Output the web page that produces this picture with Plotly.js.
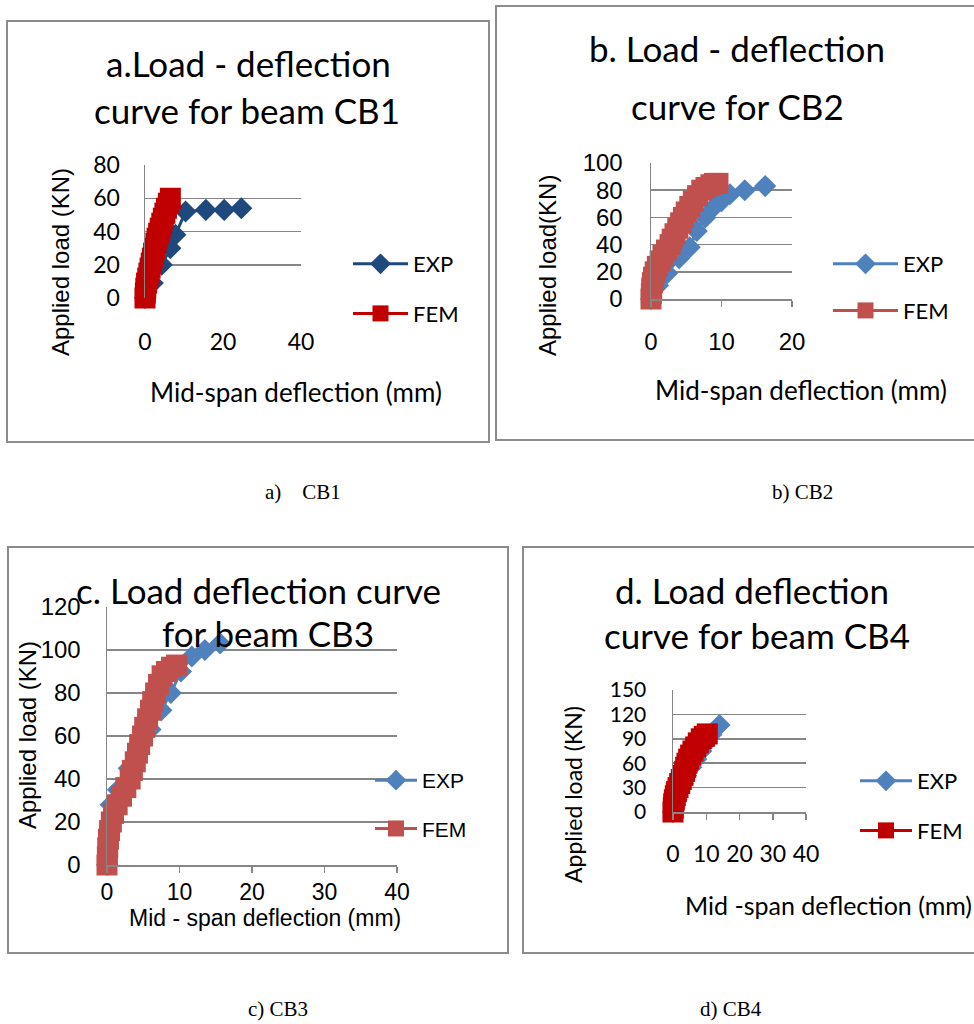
<!DOCTYPE html>
<html>
<head>
<meta charset="utf-8">
<script src="https://cdn.plot.ly/plotly-3.0.1.min.js"></script>
<style>
html, body { margin: 0; padding: 0; background: #ffffff; }
#chart { width: 974px; height: 1024px; }
</style>
</head>
<body>
<div id="chart"></div>
<script>
// ---------- DATA ----------
// CB1
const cb1ExpDefl = [0, 2, 4.3, 6.5, 7.8, 10.4, 15.6, 20.3, 24.7];
const cb1ExpLoad = [0, 9, 20, 30, 38, 52, 53, 53, 54];
const cb1FemDefl = [0, 0.1, 0.2, 0.4, 0.7, 1.0, 1.3, 1.6, 1.9, 2.2, 2.5, 2.8, 3.1, 3.5, 3.9, 4.3, 4.7, 5.1, 5.5, 6.0, 6.5];
const cb1FemLoad = [0, 3, 6, 9, 12, 15, 18, 21, 24, 27, 30, 33, 36, 39, 42, 45, 48, 51, 54, 57, 60];
// CB2
const cb2ExpDefl = [0, 1, 2.3, 4, 5.5, 6.5, 7.7, 9, 10, 11.2, 13.3, 16.2];
const cb2ExpLoad = [0, 10, 19, 30, 38, 50, 60, 68, 72, 77, 80, 83];
const cb2FemDefl = [0, 0.05, 0.1, 0.2, 0.35, 0.6, 0.9, 1.3, 1.7, 2.2, 2.7, 3.0, 3.4, 3.8, 4.2, 4.6, 5.0, 5.5, 6.0, 6.6, 7.2, 7.8, 8.5, 9.0, 9.5];
const cb2FemLoad = [0, 4, 8, 12, 16, 20, 24, 28, 32, 36, 40, 44, 48, 52, 56, 60, 64, 68, 72, 76, 80, 82, 84, 85, 85];
// CB3
const cb3ExpDefl = [0, 0.2, 0.5, 1.5, 3, 4.5, 6, 7.5, 8.8, 10.2, 11.7, 13.5, 15.6];
const cb3ExpLoad = [0, 12, 28, 35, 45, 55, 63, 72, 80, 90, 97, 100, 103];
const cb3FemDefl = [0, 0.05, 0.1, 0.2, 0.35, 0.6, 0.9, 1.4, 2.0, 2.6, 3.2, 3.5, 3.9, 4.2, 4.5, 4.9, 5.2, 5.6, 6.0, 6.3, 6.7, 7.1, 7.6, 8.2, 8.9, 9.6];
const cb3FemLoad = [0, 4, 8, 12, 16, 20, 24, 28, 32, 36, 40, 44, 48, 52, 56, 60, 64, 68, 72, 76, 80, 84, 88, 90, 92, 93];
// CB4
const cb4ExpDefl = [0, 1, 2, 3, 4, 5.5, 7, 8.5, 10, 11.5, 14];
const cb4ExpLoad = [0, 15, 25, 35, 45, 55, 65, 75, 85, 95, 107];
const cb4FemDefl = [0, 0.1, 0.2, 0.4, 0.7, 1.0, 1.5, 2.0, 2.5, 3.0, 3.5, 3.8, 4.2, 4.7, 5.3, 6.0, 6.8, 7.6, 8.5, 9.4, 10.3];
const cb4FemLoad = [0, 5, 10, 15, 20, 25, 30, 35, 40, 45, 50, 55, 60, 65, 70, 75, 80, 85, 90, 93, 96];

const seriesNames = ['EXP', 'FEM'];
const titlesA = ['a.Load - deflection', 'curve for beam CB1'];
const titlesB = ['b. Load - deflection', 'curve for CB2'];
const titlesC = ['c. Load deflection curve', 'for beam CB3'];
const titlesD = ['d. Load deflection', 'curve for beam CB4'];
const yTitles = ['Applied load (KN)', 'Applied load(KN)', 'Applied load (KN)', 'Applied load (KN)'];
const xTitles = ['Mid-span deflection (mm)', 'Mid-span deflection (mm)', 'Mid - span deflection (mm)', 'Mid -span deflection (mm)'];
const captions = ['a)    CB1', 'b) CB2', 'c) CB3', 'd) CB4'];

// ---------- STYLE ----------
const W = 974, H = 1024;
const px = v => v / W;
const py = v => 1 - v / H;
const CAL = 'Lato, Carlito, sans-serif';
const ARI = '"Liberation Sans", Arial, sans-serif';
const SER = '"Liberation Serif", "Times New Roman", serif';
const GRID = '#868686';

function mk(x, y, name, color, symbol, size, xa, ya, leg, grp) {
  return {
    x: x, y: y, name: name, type: 'scatter', mode: 'lines+markers',
    xaxis: xa, yaxis: ya, legend: leg, legendgroup: grp, showlegend: true,
    cliponaxis: false,
    line: { color: color, width: 3 },
    marker: { symbol: symbol, size: size, color: color }
  };
}

const DS = 17, SS = 21;
const traces = [
  mk(cb1ExpDefl, cb1ExpLoad, seriesNames[0], '#1F497D', 'diamond', DS, 'x', 'y', 'legend', 'a1'),
  mk(cb1FemDefl, cb1FemLoad, seriesNames[1], '#C00000', 'square', SS, 'x', 'y', 'legend', 'a2'),
  mk(cb2ExpDefl, cb2ExpLoad, seriesNames[0], '#4F81BD', 'diamond', DS, 'x2', 'y2', 'legend2', 'b1'),
  mk(cb2FemDefl, cb2FemLoad, seriesNames[1], '#C0504D', 'square', SS, 'x2', 'y2', 'legend2', 'b2'),
  mk(cb3ExpDefl, cb3ExpLoad, seriesNames[0], '#4F81BD', 'diamond', DS, 'x3', 'y3', 'legend3', 'c1'),
  mk(cb3FemDefl, cb3FemLoad, seriesNames[1], '#C0504D', 'square', SS, 'x3', 'y3', 'legend3', 'c2'),
  mk(cb4ExpDefl, cb4ExpLoad, seriesNames[0], '#4F81BD', 'diamond', DS, 'x4', 'y4', 'legend4', 'd1'),
  mk(cb4FemDefl, cb4FemLoad, seriesNames[1], '#C00000', 'square', SS, 'x4', 'y4', 'legend4', 'd2')
];

function xax(l, r, range, dtick, font, ticks, standoff, anchor) {
  return {
    domain: [px(l), px(r)], range: range, dtick: dtick, tick0: 0, anchor: anchor,
    showgrid: false, zeroline: false, showline: ticks !== '',
    linecolor: GRID, linewidth: 1.5,
    ticks: ticks, ticklen: 6, tickcolor: GRID, tickwidth: 1.5,
    ticklabelstandoff: standoff, fixedrange: true,
    tickfont: font
  };
}
function yax(t, b, range, dtick, font, standoff, anchor) {
  return {
    domain: [py(b), py(t)], range: range, dtick: dtick, tick0: 0, anchor: anchor,
    showgrid: true, gridcolor: GRID, gridwidth: 1.5,
    zeroline: false, showline: true, linecolor: GRID, linewidth: 1.5,
    ticks: '', ticklabelstandoff: standoff, fixedrange: true,
    tickfont: font
  };
}

const calTick = { family: CAL, size: 23, color: '#000' };
const calTickD = { family: CAL, size: 21, color: '#000' };
const ariTick = { family: ARI, size: 24, color: '#000' };
const ariTickC = { family: ARI, size: 23, color: '#000' };

function legendAt(x, y, font, iw, gap) {
  return {
    x: px(x), y: py(y), xanchor: 'left', yanchor: 'top',
    bgcolor: 'rgba(0,0,0,0)', borderwidth: 0,
    font: font, itemwidth: iw, tracegroupgap: gap, traceorder: 'grouped',
    itemclick: false, itemdoubleclick: false
  };
}

function ann(text, x, y, font, angle) {
  return {
    text: text, x: px(x), y: py(y), xref: 'paper', yref: 'paper',
    showarrow: false, xanchor: 'center', yanchor: 'middle',
    font: font, textangle: angle || 0
  };
}

const titleFont = { family: CAL, size: 35, color: '#000' };
const annotations = [
  ann(titlesA[0], 248, 63, titleFont), ann(titlesA[1], 247, 110, titleFont),
  ann(titlesB[0], 737, 48, titleFont), ann(titlesB[1], 737, 106, titleFont),
  ann(titlesC[0], 258, 590, titleFont), ann(titlesC[1], 268, 633, titleFont),
  ann(titlesD[0], 752, 590, titleFont), ann(titlesD[1], 757, 635, titleFont),

  ann(yTitles[0], 60, 262, { family: ARI, size: 24, color: '#000' }, -90),
  ann(yTitles[1], 547, 266, { family: ARI, size: 24, color: '#000' }, -90),
  ann(yTitles[2], 27, 735, { family: ARI, size: 24, color: '#000' }, -90),
  ann(yTitles[3], 573, 795, { family: CAL, size: 23, color: '#000' }, -90),

  ann(xTitles[0], 296, 392, { family: CAL, size: 26, color: '#000' }),
  ann(xTitles[1], 801, 390, { family: CAL, size: 26, color: '#000' }),
  ann(xTitles[2], 265, 918, { family: ARI, size: 23, color: '#000' }),
  ann(xTitles[3], 828, 905, { family: CAL, size: 25, color: '#000' }),

  ann(captions[0], 303, 492, { family: SER, size: 21, color: '#000' }),
  ann(captions[1], 802, 492, { family: SER, size: 21, color: '#000' }),
  ann(captions[2], 278, 1009, { family: SER, size: 21, color: '#000' }),
  ann(captions[3], 731, 1009, { family: SER, size: 21, color: '#000' })
];

function frame(x0, y0, x1, y1) {
  return {
    type: 'rect', xref: 'paper', yref: 'paper',
    x0: px(x0), x1: px(x1), y0: py(y1), y1: py(y0),
    line: { color: '#8C8C8C', width: 2 }, fillcolor: 'rgba(0,0,0,0)', layer: 'below'
  };
}

const layout = {
  width: W, height: H,
  margin: { l: 0, r: 0, t: 0, b: 0, pad: 0 },
  paper_bgcolor: '#ffffff', plot_bgcolor: 'rgba(0,0,0,0)',
  showlegend: true,
  xaxis: xax(145, 301, [0, 40], 20, calTick, '', 28, 'y'),
  yaxis: yax(165, 298, [0, 80], 20, calTick, 19, 'x'),
  xaxis2: xax(651, 792, [0, 20], 10, ariTick, 'outside', 15, 'y2'),
  yaxis2: yax(163, 299, [0, 100], 20, ariTick, 22, 'x2'),
  xaxis3: xax(107, 397, [0, 40], 10, ariTickC, 'outside', 0, 'y3'),
  yaxis3: yax(607, 865, [0, 120], 20, ariTick, 20, 'x3'),
  xaxis4: xax(673, 806, [0, 40], 10, calTick, 'outside', 15, 'y4'),
  yaxis4: yax(690, 812, [0, 150], 30, calTickD, 21, 'x4'),
  legend: legendAt(348, 243, { family: CAL, size: 22, color: '#000' }, 55, 18),
  legend2: legendAt(828, 243, { family: CAL, size: 22, color: '#000' }, 65, 15),
  legend3: legendAt(370, 760, { family: ARI, size: 21, color: '#000' }, 42, 18),
  legend4: legendAt(855, 760, { family: CAL, size: 22, color: '#000' }, 52, 18),
  annotations: annotations,
  shapes: [
    frame(7, 21, 489, 442),
    frame(496, 6, 990, 440),
    frame(8, 547, 508, 953),
    frame(523, 547, 990, 953)
  ]
};

Plotly.newPlot('chart', traces, layout, { displayModeBar: false, staticPlot: true });
</script>
</body>
</html>
